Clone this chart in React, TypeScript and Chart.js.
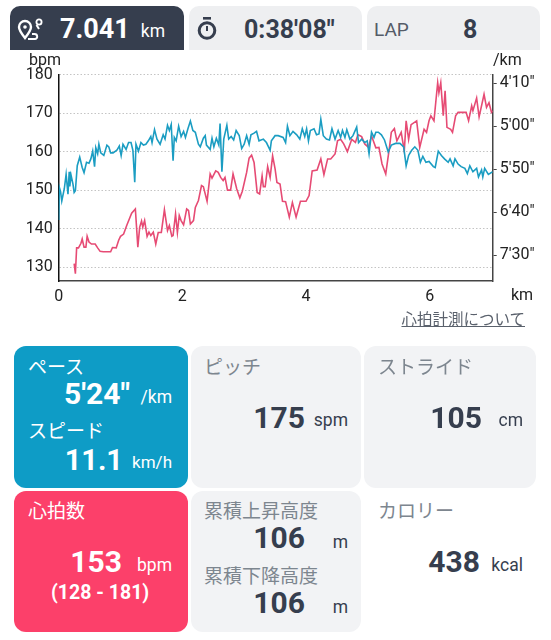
import React, { useEffect, useRef } from "react";
import Chart from "chart.js/auto";

// heart rate trace
const heartKm = [
  0.25, 0.27, 0.29, 0.32, 0.36, 0.38, 0.41, 0.44, 0.46, 0.49, 0.53, 0.59, 0.63, 0.67, 0.72, 0.84, 0.87, 0.93, 0.97, 1.0,
  1.05, 1.1, 1.18, 1.24, 1.28, 1.31, 1.34, 1.36, 1.39, 1.43, 1.46, 1.49, 1.53, 1.57, 1.61, 1.66, 1.71, 1.76, 1.79, 1.83,
  1.85, 1.89, 1.92, 1.95, 1.98, 2.02, 2.07, 2.1, 2.13, 2.18, 2.21, 2.26, 2.31, 2.34, 2.4, 2.45, 2.48, 2.54, 2.58, 2.62,
  2.66, 2.69, 2.73, 2.78, 2.82, 2.88, 2.93, 2.97, 3.04, 3.08, 3.12, 3.16, 3.21, 3.25, 3.29, 3.31, 3.34, 3.38, 3.42, 3.46,
  3.5, 3.53, 3.58, 3.62, 3.67, 3.73, 3.78, 3.84, 3.91, 4.0, 4.05, 4.1, 4.18, 4.24, 4.29, 4.35, 4.4, 4.47, 4.51, 4.56,
  4.61, 4.67, 4.74, 4.8, 4.84, 4.9, 4.95, 5.01, 5.06, 5.13, 5.18, 5.23, 5.29, 5.35, 5.38, 5.43, 5.47, 5.54, 5.59, 5.62,
  5.66, 5.7, 5.79, 5.84, 5.91, 5.95, 5.99, 6.02, 6.07, 6.13, 6.15, 6.18, 6.22, 6.25, 6.28, 6.34, 6.37, 6.42, 6.46, 6.59,
  6.63, 6.68, 6.7, 6.76, 6.8, 6.88, 6.92, 6.96, 7.0, 7.02,
];
const heartBpm = [
  130.9, 128.3, 135, 135, 136.2, 137.3, 135.2, 135.2, 138, 136.5, 136, 136, 135, 134.1, 134, 134, 135.1, 135, 137, 138,
  138.6, 140.8, 144, 145.1, 135.2, 140.4, 142, 140.4, 142.1, 138, 139.1, 138.2, 139.1, 136, 139, 139, 144.9, 139.5, 140.8, 138,
  138.2, 143.8, 139, 143.4, 142.1, 141, 145.1, 144.7, 141.2, 142.1, 145.5, 147.3, 151.2, 150.9, 147.1, 154.2, 153.1, 155, 154.6, 153.3,
  152.5, 153.3, 150, 150, 154.2, 150.3, 148, 149.7, 154.6, 158.3, 159.1, 157.2, 149.4, 149, 153.7, 150.9, 150.9, 156.1, 153.3, 158.9,
  155.5, 152, 151.6, 147.1, 147, 143, 146.8, 143, 147.1, 147.1, 148.6, 155, 155.2, 158.1, 154, 158.1, 158.1, 159.4, 162.8, 163.2,
  162, 160, 163.2, 162.4, 164.4, 163.9, 162, 161.1, 164.1, 161, 161.1, 156.8, 154.2, 161.1, 165, 166, 162.8, 165, 160.2, 168,
  163.2, 167, 168, 161.1, 165.8, 165, 168, 169.3, 168, 177.9, 175.3, 177.9, 169.3, 175.8, 166.3, 165.8, 165, 169.3, 170.2, 170.2,
  168, 171.9, 170.6, 173.9, 169, 174.9, 171.5, 172.7, 170.2, 170.6,
];

// pace trace, seconds per km
const paceKm = [
  0, 0.01, 0.03, 0.05, 0.09, 0.12, 0.15, 0.17, 0.18, 0.2, 0.23, 0.25, 0.27, 0.3, 0.34, 0.38, 0.41, 0.45, 0.49, 0.52,
  0.55, 0.58, 0.6, 0.63, 0.65, 0.68, 0.73, 0.78, 0.81, 0.84, 0.88, 0.94, 0.98, 1.01, 1.04, 1.09, 1.13, 1.17, 1.2, 1.23,
  1.25, 1.29, 1.33, 1.37, 1.41, 1.45, 1.49, 1.51, 1.55, 1.59, 1.64, 1.69, 1.72, 1.76, 1.79, 1.82, 1.85, 1.87, 1.9, 1.94,
  1.98, 2.02, 2.05, 2.09, 2.13, 2.17, 2.21, 2.26, 2.29, 2.34, 2.37, 2.39, 2.45, 2.48, 2.51, 2.55, 2.59, 2.61, 2.64, 2.67,
  2.72, 2.75, 2.79, 2.83, 2.87, 2.92, 2.96, 3.0, 3.04, 3.08, 3.11, 3.16, 3.2, 3.24, 3.31, 3.36, 3.42, 3.44, 3.5, 3.55,
  3.63, 3.67, 3.7, 3.74, 3.79, 3.85, 3.9, 3.94, 3.98, 4.01, 4.04, 4.07, 4.13, 4.17, 4.21, 4.24, 4.28, 4.33, 4.38, 4.42,
  4.47, 4.52, 4.56, 4.59, 4.63, 4.66, 4.71, 4.76, 4.82, 4.85, 4.9, 4.95, 4.99, 5.02, 5.06, 5.1, 5.13, 5.17, 5.22, 5.27,
  5.33, 5.38, 5.45, 5.52, 5.58, 5.62, 5.66, 5.71, 5.76, 5.81, 5.85, 5.89, 5.94, 5.99, 6.06, 6.09, 6.14, 6.19, 6.24, 6.3,
  6.33, 6.38, 6.41, 6.46, 6.51, 6.57, 6.61, 6.65, 6.7, 6.76, 6.79, 6.84, 6.86, 6.89, 6.95, 7.02,
];
const paceSec = [
  409, 371, 376, 387, 373, 356, 379, 353, 370, 357, 367, 377, 375, 346, 336, 348, 354, 342, 343, 338,
  329, 347, 325, 332, 321, 331, 334, 322, 324, 331, 331, 328, 323, 334, 321, 327, 319, 319, 328, 365,
  321, 329, 319, 322, 321, 317, 312, 319, 304, 315, 321, 310, 315, 299, 305, 298, 340, 313, 317, 300,
  312, 306, 313, 303, 294, 305, 307, 321, 324, 314, 311, 322, 327, 314, 324, 314, 322, 297, 353, 315,
  299, 315, 312, 316, 305, 311, 326, 321, 311, 321, 310, 308, 306, 317, 315, 319, 328, 317, 311, 311,
  313, 319, 300, 311, 306, 310, 315, 303, 312, 303, 317, 305, 303, 310, 309, 292, 311, 315, 316, 303,
  315, 305, 313, 305, 313, 304, 315, 311, 301, 319, 315, 319, 317, 332, 307, 313, 307, 307, 310, 316,
  330, 322, 320, 320, 324, 346, 334, 328, 324, 328, 342, 335, 342, 341, 347, 348, 329, 334, 338, 342,
  338, 346, 338, 344, 347, 349, 355, 346, 353, 349, 359, 351, 359, 349, 356, 353,
];

const bpmTicks = [130, 140, 150, 160, 170, 180];
const paceTicks = [250, 300, 350, 400, 450];
const kmTicks = [0, 2, 4, 6];

const DARK = "#363e4e";
const MUTED = "#7d868f";
const GREY = "#f2f3f5";
const FONT = "Roboto, 'Noto Sans CJK JP', sans-serif";
const TICK_FONT = { family: "Roboto", size: 16 };

const fmtPace = (s: number) => `${Math.floor(s / 60)}'${String(s % 60).padStart(2, "0")}"`;

interface TextProps {
  x?: number;
  right?: number;
  y: number;
  size?: number;
  bold?: boolean;
  color?: string;
  children: React.ReactNode;
}

// y is the vertical centre of the text
const T: React.FC<TextProps> = ({ x, right, y, size = 17.5, bold, color = DARK, children }) => (
  <div
    style={{
      position: "absolute",
      left: x,
      right: right !== undefined ? 551 - right : undefined,
      top: y,
      transform: "translateY(-50%)",
      fontFamily: FONT,
      fontSize: size,
      fontWeight: bold ? 700 : 400,
      color,
      lineHeight: 1,
      whiteSpace: "nowrap",
    }}
  >
    {children}
  </div>
);

const Box: React.FC<{ x: number; y: number; w: number; h: number; bg: string; r?: string }> = ({ x, y, w, h, bg, r = "12px" }) => (
  <div style={{ position: "absolute", left: x, top: y, width: w, height: h, background: bg, borderRadius: r }} />
);

const App: React.FC = () => {
  const canvasRef = useRef<HTMLCanvasElement>(null);

  useEffect(() => {
    if (!canvasRef.current) return;
    const chart = new Chart(canvasRef.current, {
      type: "line",
      data: {
        datasets: [
          {
            label: "pace",
            data: paceKm.map((km, i) => ({ x: km, y: paceSec[i] })),
            yAxisID: "yPace",
            borderColor: "#1b9dc2",
            borderWidth: 1.6,
            pointRadius: 0,
            tension: 0,
          },
          {
            label: "heart",
            data: heartKm.map((km, i) => ({ x: km, y: heartBpm[i] })),
            yAxisID: "yBpm",
            borderColor: "#e64b74",
            borderWidth: 1.6,
            pointRadius: 0,
            tension: 0,
          },
        ],
      },
      options: {
        responsive: false,
        animation: false,
        devicePixelRatio: 1,
        plugins: { legend: { display: false }, tooltip: { enabled: false } },
        scales: {
          x: {
            type: "linear",
            min: 0,
            max: 7.02,
            afterBuildTicks: (axis: any) => {
              axis.ticks = kmTicks.map((value) => ({ value }));
            },
            afterFit: (axis: any) => {
              axis.height = 29;
            },
            grid: { display: false, tickLength: 0 },
            border: { color: "#444", width: 1.5 },
            ticks: { color: "#222", font: TICK_FONT, padding: 6, maxRotation: 0 },
          },
          yBpm: {
            position: "left",
            min: 126.4,
            max: 180,
            afterBuildTicks: (axis: any) => {
              axis.ticks = bpmTicks.map((value) => ({ value }));
            },
            afterFit: (axis: any) => {
              axis.width = 58.7;
            },
            grid: { color: "#c4c4c4", drawTicks: false, tickLength: 0 },
            border: { color: "#111", width: 1.5, dash: [1.5, 2] },
            ticks: { color: "#222", font: TICK_FONT, padding: 6 },
          },
          yPace: {
            position: "right",
            reverse: true,
            min: 240,
            max: 480,
            afterBuildTicks: (axis: any) => {
              axis.ticks = paceTicks.map((value) => ({ value }));
            },
            afterFit: (axis: any) => {
              axis.width = 551 - 492.7;
            },
            grid: { drawOnChartArea: false, tickLength: 4, color: "#444" },
            border: { color: "#444", width: 1.5 },
            ticks: {
              color: "#222",
              font: TICK_FONT,
              padding: 3,
              callback: (v: any) => fmtPace(Number(v)),
            },
          },
        },
      },
    } as any);
    return () => chart.destroy();
  }, []);

  return (
    <div style={{ position: "absolute", left: 0, top: 0, width: 551, height: 640, background: "#fff", overflow: "hidden" }}>
      <Box x={10} y={6} w={174} h={44} bg={DARK} r="10px 10px 0 0" />
      <Box x={189} y={6} w={173} h={44} bg="#eeeff1" r="10px 10px 0 0" />
      <Box x={367} y={6} w={173} h={44} bg="#eeeff1" r="10px 10px 0 0" />

      <svg style={{ position: "absolute", left: 17, top: 17 }} width={26} height={24} viewBox="0 0 26 24" fill="none">
        <path d="M8 21 C4 16 2 13 2 10 a6 6 0 0 1 12 0 C14 13 12 16 8 21Z" stroke="#fff" strokeWidth="2.4" />
        <circle cx="8" cy="10" r="1.8" fill="#fff" />
        <circle cx="22" cy="5" r="2.6" stroke="#fff" strokeWidth="1.8" />
        <path d="M22 12 L19.5 8 M11 22 H18 C21 22 21 17 17.5 17 H15" stroke="#fff" strokeWidth="2" />
      </svg>
      <svg style={{ position: "absolute", left: 196, top: 16 }} width={22} height={26} viewBox="0 0 22 26" fill="none">
        <rect x="7" y="1" width="8" height="2.6" fill={DARK} />
        <circle cx="11" cy="14.5" r="7.8" stroke={DARK} strokeWidth="3" />
        <path d="M11 10 V15" stroke={DARK} strokeWidth="2" />
      </svg>

      <T x={60} y={29} size={27} bold color="#fff">7.041</T>
      <T right={165} y={32} color="#fff">km</T>
      <T x={244} y={29} size={25} bold>0:38'08"</T>
      <T x={374} y={29} size={19} color="#555c68">LAP</T>
      <T x={463} y={29} size={25} bold>8</T>

      <canvas ref={canvasRef} width={551} height={251} style={{ position: "absolute", left: 0, top: 59, display: "block" }} />
      <T x={29} y={60} size={16} color="#222">bpm</T>
      <T x={493} y={60} size={16} color="#222">/km</T>
      <T x={511} y={295} size={16} color="#222">km</T>

      <div
        style={{
          position: "absolute",
          right: 26,
          top: 311,
          fontFamily: FONT,
          fontSize: 15.5,
          lineHeight: "19px",
          color: "#5a616c",
          textDecoration: "underline",
          whiteSpace: "nowrap",
        }}
      >
        心拍計測について
      </div>

      <Box x={14} y={346} w={174} h={142} bg="#0e9cc6" />
      <Box x={191} y={346} w={170} h={142} bg={GREY} />
      <Box x={364} y={346} w={172} h={142} bg={GREY} />
      <Box x={14} y={491} w={174} h={141} bg="#fc406a" />
      <Box x={191} y={491} w={170} h={141} bg={GREY} />

      <T x={28} y={367} size={19} color="#fff">ペース</T>
      <T right={130} y={394} size={30} bold color="#fff">5'24"</T>
      <T right={172} y={398} color="#fff">/km</T>
      <T x={28} y={431} size={19} color="#fff">スピード</T>
      <T right={123} y={460} size={29} bold color="#fff">11.1</T>
      <T right={172} y={462} size={17} color="#fff">km/h</T>

      <T x={204} y={367} size={19} color={MUTED}>ピッチ</T>
      <T right={305} y={418} size={30} bold>175</T>
      <T right={348} y={421}>spm</T>

      <T x={378} y={367} size={19} color={MUTED}>ストライド</T>
      <T right={482} y={418} size={30} bold>105</T>
      <T right={523} y={421}>cm</T>

      <T x={28} y={511} size={19} color="#fff">心拍数</T>
      <T right={122} y={562} size={30} bold color="#fff">153</T>
      <T right={172} y={566} color="#fff">bpm</T>
      <T x={51} y={593} size={19.5} bold color="#fff">(128 - 181)</T>

      <T x={204} y={511} size={19} color={MUTED}>累積上昇高度</T>
      <T right={305} y={538} size={30} bold>106</T>
      <T right={348} y={543}>m</T>
      <T x={204} y={576} size={19} color={MUTED}>累積下降高度</T>
      <T right={305} y={603} size={30} bold>106</T>
      <T right={348} y={608}>m</T>

      <T x={378} y={511} size={19} color={MUTED}>カロリー</T>
      <T right={480} y={562} size={30} bold>438</T>
      <T right={523} y={566}>kcal</T>
    </div>
  );
};

export default App;
